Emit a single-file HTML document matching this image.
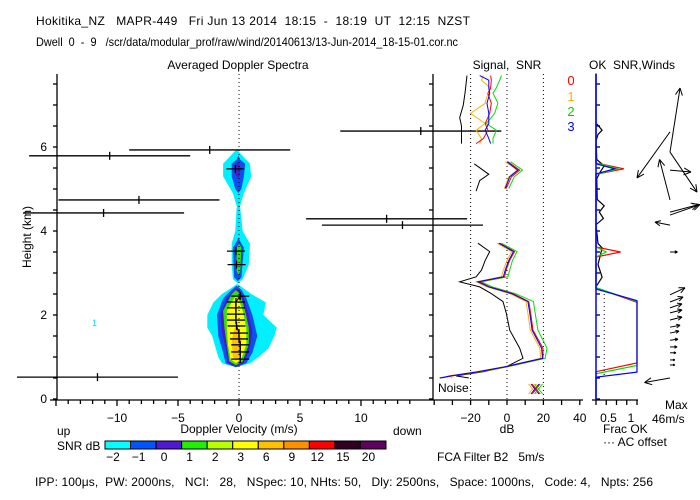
<!DOCTYPE html>
<html><head><meta charset="utf-8">
<style>
html,body{margin:0;padding:0;background:#fff;}
svg{display:block;}
text{font-family:"Liberation Sans",sans-serif;font-size:12px;white-space:pre;}
</style></head>
<body>
<svg id="chart" width="700" height="500" viewBox="0 0 700 500" xmlns="http://www.w3.org/2000/svg" xml:space="preserve">
<g>
<text x="36" y="25" font-size="13" textLength="434" lengthAdjust="spacing">Hokitika_NZ   MAPR-449   Fri Jun 13 2014  18:15  -  18:19  UT  12:15  NZST</text>
<text x="36" y="46" font-size="12" textLength="422" lengthAdjust="spacingAndGlyphs">Dwell  0  -  9   /scr/data/modular_prof/raw/wind/20140613/13-Jun-2014_18-15-01.cor.nc</text>
<text x="238" y="69" text-anchor="middle" font-size="13">Averaged Doppler Spectra</text>
<text x="507" y="69" text-anchor="middle" font-size="13">Signal,  SNR</text>
<text x="632" y="69" text-anchor="middle" font-size="13">OK  SNR,Winds</text>
</g>
<g id="spec"></g>
<g id="sig"></g>
<g id="wind"></g>
<g id="cbar"></g>
<g>
<text x="57" y="435">up</text>
<text x="239" y="433" text-anchor="middle">Doppler Velocity (m/s)</text>
<text x="393" y="435">down</text>
<text x="57" y="450">SNR dB</text>
<text x="507" y="433" text-anchor="middle">dB</text>
<text x="603" y="433">Frac OK</text>
<text x="603" y="446">··· AC offset</text>
<text x="665" y="409">Max</text>
<text x="652" y="423">46m/s</text>
<text x="437" y="461">FCA Filter B2   5m/s</text>
<text x="35" y="486" textLength="618" lengthAdjust="spacing">IPP: 100μs,  PW: 2000ns,   NCI:   28,   NSpec: 10, NHts: 50,   Dly: 2500ns,   Space: 1000ns,   Code: 4,   Npts: 256</text>
</g>
</svg>
<script>
// ---- data ----
const specColors = ["#00f0ff","#0a50f0","#4a18c8","#30e000","#ffff00","#ffc000"];
const contourCyanLow = [[0.85,-1.4,0.9],[1.0,-1.7,1.6],[1.2,-1.9,2.4],[1.5,-2.2,2.9],[1.7,-2.6,3.1],[2.0,-2.6,2.0],[2.3,-2.1,2.2],[2.5,-1.4,1.0],[2.65,-0.6,0.3]];
const contourBlueLow = [[0.85,-1.1,0.6],[1.1,-1.3,1.1],[1.5,-1.7,1.5],[2.0,-1.8,1.1],[2.4,-1.3,0.6],[2.6,-0.6,0.2]];
const contourPurpleLow = [[0.86,-0.9,0.4],[1.2,-1.1,0.9],[1.6,-1.4,1.1],[2.0,-1.5,0.8],[2.4,-1.0,0.4],[2.55,-0.5,0.1]];
const contourGreenLow = [[0.9,-0.8,0.3],[1.3,-1.0,0.8],[1.7,-1.2,0.8],[2.1,-1.3,0.5],[2.5,-0.6,0.1]];
const contourYellowLow = [[0.95,-0.7,0.2],[1.3,-0.9,0.6],[1.7,-1.0,0.6],[2.1,-1.0,0.3],[2.35,-0.5,0.0]];
const contourOrangeLow = [[1.0,-0.5,0.0],[1.4,-0.6,0.2],[1.65,-0.4,0.0]];
const contourCyanMid = [[2.85,-0.5,0.3],[3.2,-0.6,0.8],[3.7,-0.6,0.9],[4.0,-0.3,0.3],[4.55,-0.2,0.1]];
const contourBlueMid = [[2.9,-0.4,0.2],[3.6,-0.5,0.4],[3.75,-0.2,0.1]];
const contourGreenMid = [[3.05,-0.2,0.1],[3.6,-0.2,0.2]];
const contourCyanHigh = [[4.6,-0.2,0.1],[4.9,-0.5,0.4],[5.3,-1.3,1.0],[5.6,-1.3,0.9],[5.85,-0.5,0.1]];
const contourBlueHigh = [[5.0,-0.3,0.2],[5.3,-0.6,0.4],[5.6,-0.6,0.5],[5.7,-0.2,0.1]];
const contourPurpleHigh = [[5.35,-0.3,0.1],[5.55,-0.3,0.1]];
const crossH = [2.45,2.31,2.17,2.02,1.88,1.74,1.57,1.43,1.29,1.12,0.95];
const crossV = [0.1,-0.25,-0.25,-0.25,-0.25,-0.2,0.0,0.0,0.1,0.1,0.1];
const crossExtraH = [3.52,3.2,5.48];
const crossExtraV = [-0.25,-0.2,-0.3];
const errH = [5.79,5.93,6.38,4.74,4.43,4.29,4.14,0.52];
const errV = [-10.6,-2.4,14.9,-8.2,-11.1,12.1,13.4,-11.6];
const errHalf = 6.6;
const xTicks = [-10,-5,0,5,10];
const yTicks = [0,2,4,6];
const sigLowH = [3.71,3.51,3.3,3.07,2.91,2.79,2.67,2.51,2.32,2.04,1.64,1.21,0.97,0.77,0.65,0.55,0.5];
const noiseLow = [-16,-9.5,-12,-14,-17,-26,-15,-8.6,-2.2,-0.4,1.5,7,8.8,-0.4,-13,-28,-21];
const snrRedLow = [-4,4.2,1.5,-0.5,-1.3,-15,-9.5,3.3,12,13,14.3,19.8,19.8,-0.4,-15,-30,-37];
const snrOrangeLow = [-5.5,2.5,0,-2,-3,-17,-11,1.5,10.5,11.5,12.8,18,18.5,-1.5,-17,-32,-30];
const snrGreenLow = [-3,5.5,3,1.5,0.5,-14,-8,4.5,14.5,15.5,17,22,21,0.5,-14,-30,-36];
const snrBlueLow = [-4.5,3.5,1,-1,-2,-16,-10,2.5,11.5,12.5,13.8,19,19.5,-1,-16,-31,-37];
const sigTopH = [7.7,7.59,7.4,7.28,7.04,6.8,6.56,6.4,6.2,6.08];
const snrRedTop = [-9,-8.6,-9,-10.5,-8.6,-9.5,-12,-10.5,-13,-17];
const snrOrangeTop = [-13,-14,-9,-10.5,-12,-20,-12,-17,-14,-15];
const snrGreenTop = [-3,-4,-6,-7.7,-5,-6.8,-11.4,-5.9,-7.7,-7.7];
const snrBlueTop = [-15,-10,-10,-9.5,-11,-10,-10,-12,-10,-9];
const noiseTopH = [7.7,7.3,7.0,6.7,6.5,6.3,6.08];
const noiseTop = [-22,-23,-24,-26,-25,-25,-25];
const sigMidH = [5.65,5.45,5.29,5.01];
const snrRedMid = [0.5,7,2.4,-0.4];
const snrOrangeMid = [-1,5.5,1,-1.5];
const snrGreenMid = [2,8.5,4,1];
const snrBlueMid = [0,6,1.5,-1];
const noiseMidH = [5.6,5.35,5.2,4.95];
const noiseMid = [-18,-10,-15,-17];
const dbTicks = [-20,0,20,40];
const dbDotted = [-20,0,20];
const fracRedH = [7.75,5.62,5.48,5.35,3.62,3.5,3.38,2.65,2.3,0.86,0.65,0];
const fracRed = [0,0,0.68,0,0,0.6,0,0,1,1,0,0];
const fracGreenH = [7.75,5.62,5.48,5.35,3.62,3.5,3.38,2.65,2.32,0.8,0.6,0];
const fracGreen = [0,0,0.55,0,0,0.25,0,0,1,1,0,0];
const fracBlueH = [7.75,5.6,5.48,5.36,2.62,2.34,0.64,0.52,0];
const fracBlue = [0,0,0.45,0,0,1,1,0,0];
const fracBlackH = [6.55,6.4,6.3,6.15,5.7,5.55,5.4,5.25,4.75,4.6,4.45,4.3,4.15,3.7,3.6,3.4,3.2,2.9,2.7];
const fracBlack = [0.02,0.15,0.05,0.0,0.02,0.2,0.1,0.02,0.03,0.2,0.08,0.18,0.0,0.05,0.15,0.1,0.05,0.15,0.02];
const windH = [6.36,5.88,4.74,5.45,5.88,4.38,4.45,4.14,3.5,2.48,2.31,2.17,2.05,1.88,1.71,1.57,1.4,1.24,1.1,0.93,0.81,0.5];
const windU = [-22,6.7,-7,14,18,20,19,-10,5,10,8.7,8,8,8,6.7,6,5.3,4.7,4,3.3,3.3,-17];
const windV = [-30.7,42.7,27,-1.3,-26.7,7,5,2,0,4.7,3.3,2.7,2,2,1.3,1.3,0.7,0,0,0,0,-3];
const fracTickLabels = ["0.5","1"];
const fracTickVals = [0.5,1];
const cbarLabels = ["-2","-1","0","1","2","3","6","9","12","15","20"];
const cbarColors = ["#00ffff","#0055ff","#5018d0","#20f000","#b8ff00","#ffff00","#ffc000","#ff9000","#ff0000","#300020","#600060"];

const vx = v => 239 + 12.2*v;
const hy = h => 399 - 42*h;
const dbx = d => 507 + 1.82*d;
const fx = f => 596 + 41*f;
const NS = "http://www.w3.org/2000/svg";
function mk(parent, tag, attrs){const e=document.createElementNS(NS,tag);for(const k in attrs)e.setAttribute(k,attrs[k]);parent.appendChild(e);return e;}
const spec=document.getElementById('spec'), sig=document.getElementById('sig'), wind=document.getElementById('wind'), cbar=document.getElementById('cbar');

function contour(prof,color,name){
  const right=prof.map(p=>vx(p[2]).toFixed(1)+','+hy(p[0]).toFixed(1));
  const left=prof.slice().reverse().map(p=>vx(p[1]).toFixed(1)+','+hy(p[0]).toFixed(1));
  const pts=[vx((prof[0][1]+prof[0][2])/2).toFixed(1)+','+(hy(prof[0][0])+4).toFixed(1)].concat(right,[vx((prof[prof.length-1][1]+prof[prof.length-1][2])/2).toFixed(1)+','+(hy(prof[prof.length-1][0])-4).toFixed(1)],left);
  const e=mk(spec,'polygon',{points:pts.join(' '),fill:color});
  
  
}
contour(contourCyanLow,specColors[0],'contour-cyan-low');
contour(contourBlueLow,specColors[1],'contour-blue-low');
contour(contourPurpleLow,specColors[2],'contour-purple-low');
contour(contourGreenLow,specColors[3],'contour-green-low');
contour(contourYellowLow,specColors[4],'contour-yellow-low');
contour(contourOrangeLow,specColors[5],'contour-orange-low');
contour(contourCyanMid,specColors[0],'contour-cyan-mid');
contour(contourBlueMid,specColors[1],'contour-blue-mid');
contour(contourGreenMid,specColors[3],'contour-green-mid');
contour(contourCyanHigh,specColors[0],'contour-cyan-high');
contour(contourBlueHigh,specColors[1],'contour-blue-high');
contour(contourPurpleHigh,specColors[2],'contour-purple-high');

let z=mk(spec,'line',{x1:vx(0),y1:74,x2:vx(0),y2:399,stroke:'#000','stroke-dasharray':'1,3'});



let mp=crossH.map((h,i)=>vx(crossV[i]).toFixed(1)+','+hy(h).toFixed(1)).join(' ');
let ml=mk(spec,'polyline',{points:mp,fill:'none',stroke:'#000','stroke-width':1});


function cross(h,v,name){
  const g=mk(spec,'g',{});
  
  
  mk(g,'line',{x1:vx(v)-9,x2:vx(v)+9,y1:hy(h),y2:hy(h),stroke:'#000','stroke-width':1.3});
  mk(g,'line',{x1:vx(v),x2:vx(v),y1:hy(h)-4,y2:hy(h)+4,stroke:'#000','stroke-width':1.3});
}
crossH.forEach((h,i)=>cross(h,crossV[i],'spectral-moment-cross'));
crossExtraH.forEach((h,i)=>cross(h,crossExtraV[i],'spectral-moment-cross'));
errH.forEach((h,i)=>{
  const g=mk(spec,'g',{});
  
  
  mk(g,'line',{x1:vx(errV[i]-errHalf),x2:vx(errV[i]+errHalf),y1:hy(h),y2:hy(h),stroke:'#000','stroke-width':1.3});
  mk(g,'line',{x1:vx(errV[i]),x2:vx(errV[i]),y1:hy(h)-4,y2:hy(h)+4,stroke:'#000','stroke-width':1.3});
});
let one=mk(spec,'text',{x:92,y:326,style:'fill:#00e0ff;font-size:9px'});
one.textContent='1';



const ax=mk(spec,'g',{stroke:'#000','stroke-width':1.3});


mk(ax,'line',{x1:57,y1:74,x2:57,y2:400});
mk(ax,'line',{x1:50,y1:400,x2:420,y2:400});
for(let h=0;h<=7.5;h+=0.5){mk(ax,'line',{x1:53,x2:57,y1:hy(h),y2:hy(h)});}
for(let v=-15;v<=14;v++){const big=v%5===0;mk(ax,'line',{x1:vx(v),x2:vx(v),y1:400,y2:big?406:404});}
xTicks.forEach(v=>{const t=mk(spec,'text',{x:vx(v),y:422,'text-anchor':'middle'});t.textContent=v<0?'\u2212'+(-v):String(v);
  
  });
yTicks.forEach(h=>{const t=mk(spec,'text',{x:47,y:hy(h)+4,'text-anchor':'end'});t.textContent=String(h);
  
  });
let yt=mk(spec,'text',{x:0,y:0,transform:'translate(31,237) rotate(-90)','text-anchor':'middle','font-size':11});
yt.textContent='Height (km)';



const sax=mk(sig,'g',{stroke:'#000','stroke-width':1.3});


mk(sax,'line',{x1:433,y1:74,x2:433,y2:400});
mk(sax,'line',{x1:420,y1:400,x2:583,y2:400});
for(let h=0;h<=7.5;h+=0.5){mk(sax,'line',{x1:429,x2:433,y1:hy(h),y2:hy(h)});}
for(let d=-40;d<=40;d+=10){mk(sax,'line',{x1:dbx(d),x2:dbx(d),y1:400,y2:405});}
dbDotted.forEach(d=>{const l=mk(sig,'line',{x1:dbx(d),x2:dbx(d),y1:74,y2:399,stroke:'#000','stroke-dasharray':'1,3'});
  
  });
dbTicks.forEach(d=>{const t=mk(sig,'text',{x:dbx(d),y:422,'text-anchor':'middle'});t.textContent=d<0?'\u2212'+(-d):String(d);
  
  });
function sline(H,D,color,name){
  const p=H.map((h,i)=>dbx(D[i]).toFixed(1)+','+hy(h).toFixed(1)).join(' ');
  const e=mk(sig,'polyline',{points:p,fill:'none',stroke:color,'stroke-width':1});
  
  
}
sline(sigLowH,noiseLow,'#000','noise-line-low');
sline(sigTopH,snrOrangeTop,'#ffb000','snr-1-top');
sline(sigTopH,snrRedTop,'#ff0000','snr-0-top');
sline(sigTopH,snrGreenTop,'#00e000','snr-2-top');
sline(sigTopH,snrBlueTop,'#0000ff','snr-3-top');
sline(noiseTopH,noiseTop,'#000','noise-line-top');
sline(sigMidH,snrOrangeMid,'#ffb000','snr-1-mid');
sline(sigMidH,snrGreenMid,'#00e000','snr-2-mid');
sline(sigMidH,snrRedMid,'#ff0000','snr-0-mid');
sline(sigMidH,snrBlueMid,'#0000ff','snr-3-mid');
sline(noiseMidH,noiseMid,'#000','noise-line-mid');
sline(sigLowH,snrGreenLow,'#00e000','snr-2-low');
sline(sigLowH,snrOrangeLow,'#ffb000','snr-1-low');
sline(sigLowH,snrRedLow,'#ff0000','snr-0-low');
sline(sigLowH,snrBlueLow,'#0000ff','snr-3-low');
let nz=mk(sig,'text',{x:438,y:392,'font-size':11});nz.textContent='Noise';


[['0','#ff0000',85],['1','#ffb000',101],['2','#00d000',116],['3','#0000ff',131]].forEach(a=>{
  const t=mk(sig,'text',{x:571,y:a[2],'text-anchor':'middle',style:'fill:'+a[1]+';font-size:13px'});t.textContent=a[0];
  
  });
[['#ffb000',-6],['#0000ff',-4],['#ff0000',-3],['#00e000',-1]].forEach(a=>{
  const g=mk(sig,'g',{stroke:a[0]});
  
  
  const cx=dbx(18)+a[1]*1.2, cy=389;
  mk(g,'line',{x1:cx-4,y1:cy-5,x2:cx+4,y2:cy+5});mk(g,'line',{x1:cx-4,y1:cy+5,x2:cx+4,y2:cy-5});
});

const wax=mk(wind,'g',{stroke:'#000','stroke-width':1.3});


mk(wax,'line',{x1:592,y1:400,x2:638,y2:400});
for(let h=0;h<=7.5;h+=0.5){mk(wax,'line',{x1:596,x2:600,y1:hy(h),y2:hy(h)});}
[0,0.25,0.5,0.75,1].forEach(f=>mk(wax,'line',{x1:fx(f),x2:fx(f),y1:400,y2:405}));
fracTickVals.forEach((f,i)=>{const t=mk(wind,'text',{x:fx(f)-8+(i*2),y:422,'text-anchor':'middle'});t.textContent=fracTickLabels[i];
  
  });
function fline(H,F,color,name,dash){
  const p=H.map((h,i)=>fx(F[i]).toFixed(1)+','+hy(h).toFixed(1)).join(' ');
  const a={points:p,fill:'none',stroke:color,'stroke-width':1.2};if(dash)a['stroke-dasharray']=dash;
  const e=mk(wind,'polyline',a);
  
  
}
fline(fracBlackH,fracBlack,'#000','frac-signal-line');
fline(fracRedH,fracRed,'#ff0000','frac-ok-0');
fline(fracGreenH,fracGreen,'#00e000','frac-ok-2');
fline(fracBlueH,fracBlue,'#0000ff','frac-ok-3');
let ac=mk(wind,'line',{x1:fx(0.2),x2:fx(0.2),y1:hy(2.5),y2:hy(0.5),stroke:'#000','stroke-dasharray':'1,3'});


let bl=mk(wind,'line',{x1:596,x2:596,y1:74,y2:400,stroke:'#0000ff','stroke-width':1.5});


const ws=1.5;
windH.forEach((h,i)=>{
  const x0=670,y0=hy(h),x1=x0+windU[i]*ws,y1=y0-windV[i]*ws;
  const g=mk(wind,'g',{stroke:'#000','stroke-width':1});
  
  
  mk(g,'line',{x1:x0,y1:y0,x2:x1,y2:y1});
  const ang=Math.atan2(y1-y0,x1-x0),L=Math.min(8,Math.hypot(x1-x0,y1-y0)*0.4);
  [0.45,-0.45].forEach(d=>mk(g,'line',{x1:x1,y1:y1,x2:x1-L*Math.cos(ang+d),y2:y1-L*Math.sin(ang+d)}));
});

const cw=(386-105)/cbarColors.length;
cbarColors.forEach((c,i)=>{
  const r=mk(cbar,'rect',{x:105+i*cw,y:441,width:cw,height:8,fill:c,stroke:'#000','stroke-width':1});
  
  
  const t=mk(cbar,'text',{x:105+i*cw+8,y:461,'text-anchor':'middle'});
  t.textContent=cbarLabels[i].replace('-','\u2212');
  
  
});
</script>
</body></html>
